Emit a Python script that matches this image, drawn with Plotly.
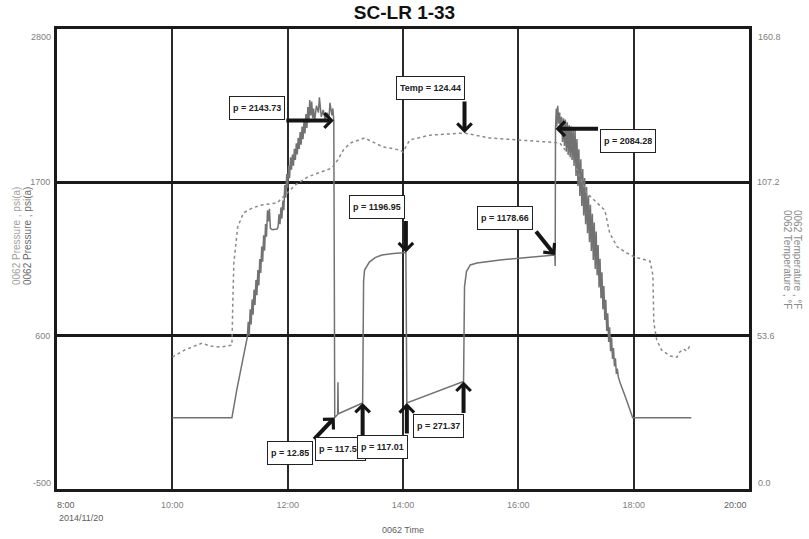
import plotly.graph_objects as go

DATE = "2014-11-20"
FONT = "Liberation Sans Narrow, Arial Narrow, Liberation Sans, Arial, sans-serif"

# ---------------- data ----------------
temp_times = ["10:00", "10:13", "10:31", "10:39", "10:50", "11:02", "11:03", "11:04", "11:08", "11:14",
              "11:23", "11:33", "11:49", "11:57", "12:08", "12:21", "12:46", "12:52", "12:58", "13:05",
              "13:20", "13:39", "13:57", "14:00", "14:07", "14:28", "15:04", "15:30", "16:02", "16:36",
              "16:43", "16:51", "16:57", "17:04", "17:11", "17:22", "17:30", "17:35", "17:43", "17:53",
              "18:01", "18:17", "18:20", "18:21", "18:24", "18:29", "18:38", "18:45", "18:48", "18:52",
              "18:55", "19:00"]
temp_values = [46.1, 48.6, 51.0, 50.0, 49.6, 50.3, 66.1, 79.0, 91.6, 96.5,
               98.2, 99.3, 100.0, 102.8, 106.3, 109.1, 112.2, 115.0, 118.5, 120.9,
               122.7, 119.6, 118.5, 117.8, 122.0, 123.7, 124.44, 122.7, 122.0, 121.3,
               121.0, 117.5, 115.0, 109.1, 103.5, 100.0, 97.5, 89.5, 84.6, 82.5,
               81.1, 79.7, 74.8, 58.0, 52.1, 48.6, 46.5, 46.1, 47.9, 48.9,
               48.2, 50.7]

press_times = [
    "10:00", "11:02", "11:07", "11:18",
    "11:19", "11:20", "11:21", "11:22", "11:23", "11:24", "11:25", "11:26", "11:27", "11:28",
    "11:29", "11:30", "11:31", "11:32", "11:33", "11:34", "11:35", "11:36", "11:37", "11:38",
    "11:39", "11:40", "11:41", "11:42", "11:44", "11:49",
    "11:50", "11:51", "11:52", "11:53", "11:54", "11:55", "11:56", "11:57", "11:58", "11:59",
    "12:00", "12:01", "12:02", "12:03", "12:04", "12:05", "12:06", "12:07", "12:08", "12:09",
    "12:10", "12:11", "12:12", "12:13", "12:14", "12:15", "12:16", "12:17", "12:18", "12:19",
    "12:20", "12:21", "12:22", "12:23", "12:24", "12:25", "12:26", "12:27", "12:28", "12:30",
    "12:32", "12:33", "12:35", "12:37", "12:39", "12:41", "12:43", "12:44", "12:46", "12:47",
    "12:48", "12:49", "12:52", "12:52:20", "12:52:40",
    "13:18", "13:18:20", "13:19", "13:20", "13:25", "13:31", "13:38", "13:50", "14:03",
    "14:04", "15:03", "15:03:30", "15:04", "15:06", "15:10", "15:17", "15:41", "16:15", "16:38",
    "16:38:20", "16:38:40", "16:39:30", "16:40", "16:41", "16:42", "16:43", "16:44", "16:45",
    "16:46", "16:47", "16:48", "16:49", "16:50", "16:51", "16:52", "16:53", "16:54", "16:55",
    "16:56", "16:57", "16:58", "16:59", "17:00", "17:01", "17:02", "17:03", "17:04", "17:05",
    "17:06", "17:07", "17:08", "17:09", "17:10", "17:11", "17:12", "17:13", "17:14", "17:15",
    "17:16", "17:17", "17:18", "17:19", "17:20", "17:21", "17:22", "17:23", "17:24", "17:25",
    "17:26", "17:27", "17:28", "17:29", "17:30", "17:31", "17:32", "17:33", "17:34", "17:35",
    "17:36", "17:37", "17:38", "17:39", "17:40", "17:41", "17:42", "17:43", "17:44", "17:46",
    "17:49", "17:52", "17:55", "17:59", "19:00"]
press_values = [
    12, 12, 210, 590,
    700, 600, 790, 680, 860, 750, 930, 820, 1000, 890,
    1070, 960, 1150, 1050, 1240, 1130, 1320, 1210, 1400, 1310,
    1500, 1420, 1510, 1370, 1360, 1365,
    1380, 1470, 1400, 1520, 1440, 1570, 1500, 1680, 1590, 1760,
    1660, 1820, 1730, 1880, 1790, 1900, 1820, 1940, 1860, 1980,
    1900, 2020, 1940, 2060, 1970, 2100, 2010, 2140, 2050, 2190,
    2090, 2240, 2130, 2290, 2180, 2280, 2160, 2230, 2140, 2250,
    2200, 2310, 2170, 2220, 2150, 2200, 2160, 2270, 2180, 2230,
    2143.73, 12.85, 35, 265, 40,
    117.53, 600, 990, 1071, 1128, 1160, 1179, 1190, 1196.95,
    117.01, 271.37, 600, 950, 1060, 1107, 1121, 1143, 1164, 1178.66,
    1100, 2084.28, 2230, 2100, 2250, 2120, 2200, 2060, 2170,
    1990, 2160, 1960, 2150, 1920, 2130, 1900, 2110, 1880, 2100,
    1860, 2080, 1818, 2082, 1746, 2010, 1674, 1938, 1602, 1866,
    1530, 1795, 1463, 1731, 1399, 1667, 1335, 1603, 1271, 1539,
    1207, 1475, 1143, 1411, 1079, 1347, 1034, 1250, 946, 1152,
    868, 1054, 790, 956, 712, 858, 634, 760, 555, 660,
    488, 586, 434, 512, 380, 438, 326, 364, 304, 260,
    210, 150, 90, 12, 12]

x_tick_hours = ["08:00", "10:00", "12:00", "14:00", "16:00", "18:00", "20:00"]
x_tick_labels = ["8:00", "10:00", "12:00", "14:00", "16:00", "18:00", "20:00"]
x_date_label = "2014/11/20"
p_ticks = [-500, 600, 1700, 2800]
t_ticks = [0.0, 53.6, 107.2, 160.8]

callout_labels = ["p = 2143.73", "p = 2084.28", "Temp = 124.44", "p = 1196.95", "p = 1178.66",
                  "p = 12.85", "p = 117.53", "p = 117.01", "p = 271.37"]
callout_times = ["12:48", "16:38:40", "15:04", "14:03", "16:38", "12:49", "13:18", "14:04", "15:03"]
callout_values = [2143.73, 2084.28, 124.44, 1196.95, 1178.66, 12.85, 117.53, 117.01, 271.37]
callout_axes = ["y", "y", "y2", "y", "y", "y", "y", "y", "y"]


def ts(t):
    return f"{DATE} {t}"


# ---------------- figure ----------------
fig = go.Figure()
fig.add_trace(go.Scatter(x=[ts(t) for t in temp_times], y=temp_values, yaxis="y2", mode="lines",
                         line=dict(color="#8a8a8a", width=1.5, dash="dot"), name="0062 Temperature"))
fig.add_trace(go.Scatter(x=[ts(t) for t in press_times], y=press_values, mode="lines",
                         line=dict(color="#727272", width=1.5), name="0062 Pressure"))

tick_font = dict(family=FONT, size=9, color="#808080")
fig.update_layout(
    width=809, height=539,
    margin=dict(l=57, r=60, t=29, b=50, autoexpand=False),
    paper_bgcolor="white", plot_bgcolor="white", showlegend=False,
    title=dict(text="<b>SC-LR 1-33</b>", x=0.5, xanchor="center", y=1 - 12.5 / 539, yanchor="middle",
               font=dict(family=FONT, size=19, color="#111111")),
    xaxis=dict(type="date", range=[ts(x_tick_hours[0]), ts(x_tick_hours[-1])],
               tickvals=[ts(h) for h in x_tick_hours[1:-1]], ticktext=x_tick_labels[1:-1],
               showgrid=True, gridcolor="#2a2a2a", gridwidth=1.5,
               showline=True, linecolor="#1a1a1a", linewidth=3, mirror=True,
               ticks="", tickfont=tick_font, ticklabelstandoff=5, zeroline=False),
    yaxis=dict(range=[p_ticks[0], p_ticks[-1]], tickvals=p_ticks[1:-1], ticktext=[str(v) for v in p_ticks[1:-1]],
               showgrid=True, gridcolor="#1a1a1a", gridwidth=2.5,
               showline=True, linecolor="#1a1a1a", linewidth=3, mirror=True,
               ticks="", tickfont=tick_font, ticklabelstandoff=2, zeroline=False),
    yaxis2=dict(range=[t_ticks[0], t_ticks[-1]], overlaying="y", side="right",
                tickvals=t_ticks[1:-1], ticktext=[f"{v:.1f}" for v in t_ticks[1:-1]],
                showgrid=False, showline=False, ticks="", tickfont=tick_font,
                ticklabelstandoff=7, zeroline=False),
)

ann = []
# edge tick labels (kept inside the axis span as in the original)
ann.append(dict(x=0, xref="paper", xshift=-4, xanchor="right", y=p_ticks[-1], yref="y", yanchor="top",
                yshift=-1, text=str(p_ticks[-1]), showarrow=False, font=tick_font))
ann.append(dict(x=0, xref="paper", xshift=-4, xanchor="right", y=p_ticks[0], yref="y", yanchor="bottom",
                yshift=-1, text=str(p_ticks[0]), showarrow=False, font=tick_font))
ann.append(dict(x=1, xref="paper", xshift=7, xanchor="left", y=t_ticks[-1], yref="y2", yanchor="top",
                yshift=-1, text=f"{t_ticks[-1]:.1f}", showarrow=False, font=tick_font))
ann.append(dict(x=1, xref="paper", xshift=7, xanchor="left", y=t_ticks[0], yref="y2", yanchor="bottom",
                yshift=-1, text=f"{t_ticks[0]:.1f}", showarrow=False, font=tick_font))
dark_tick = dict(family=FONT, size=9, color="#606060")
ann.append(dict(x=ts(x_tick_hours[0]), xref="x", xanchor="left", xshift=-2, y=0, yref="paper", yanchor="top",
                yshift=-9, text=x_tick_labels[0], showarrow=False, font=dark_tick))
ann.append(dict(x=ts(x_tick_hours[0]), xref="x", xanchor="left", y=0, yref="paper", yanchor="top",
                yshift=-22, text=x_date_label, showarrow=False, font=dark_tick))
ann.append(dict(x=ts(x_tick_hours[-1]), xref="x", xanchor="right", y=0, yref="paper", yanchor="top",
                yshift=-9, text=x_tick_labels[-1], showarrow=False, font=dark_tick))

# axis titles
ann.append(dict(x=0.5, xref="paper", y=0, yref="paper", yanchor="middle", yshift=-41,
                text="0062 Time", showarrow=False, font=dict(family=FONT, size=9, color="#606060")))
for xs, col in ((-40, "#a0a0a0"), (-29, "#6a6a6a")):
    ann.append(dict(x=0, xref="paper", xshift=xs, xanchor="center", y=0.55, yref="paper", yanchor="middle",
                    text="0062 Pressure , psi(a)", textangle=-90, showarrow=False,
                    font=dict(family=FONT, size=10, color=col)))
for xs in (39, 49):
    ann.append(dict(x=1, xref="paper", xshift=xs, xanchor="center", y=0.50, yref="paper", yanchor="middle",
                    text="0062 Temperature , °F", textangle=90, showarrow=False,
                    font=dict(family=FONT, size=10, color="#8a8a8a")))

# callouts: arrow offsets (ax, ay) and box anchoring
callout_style = [
    (-49, 0, "right", "bottom"),
    (44, 0, "left", "top"),
    (0, -33, "right", "bottom"),
    (0, -33, "right", "bottom"),
    (-20, -25, "right", "bottom"),
    (-22, 23, "right", "top"),
    (0, 34, "right", "top"),
    (0, 32, "right", "top"),
    (0, 33, "right", "top"),
]
box_extra_x = [0, 0, 0, -1, -2, 0, 3, 1, 0]
for lab, t, v, ax_, (dx, dy, xa, ya), ex in zip(callout_labels, callout_times, callout_values,
                                                  callout_axes, callout_style, box_extra_x):
    ann.append(dict(x=ts(t), y=v, xref="x", yref=ax_, text=f"<b>{lab}</b>", showarrow=False,
                    xanchor=xa, yanchor=ya, xshift=dx + ex, yshift=-dy,
                    bgcolor="white", bordercolor="#222222", borderwidth=1, borderpad=3, height=16,
                    font=dict(family=FONT, size=9, color="#222222")))
    ann.append(dict(x=ts(t), y=v, xref="x", yref=ax_, text="", showarrow=True,
                    ax=dx, ay=dy, arrowhead=4, arrowwidth=4, arrowsize=0.7, arrowcolor="#151515"))

fig.update_layout(annotations=ann)
fig.write_html("out.html", config={"displayModeBar": False},
               post_script="document.body.style.margin='0';document.body.style.overflow='hidden';")
